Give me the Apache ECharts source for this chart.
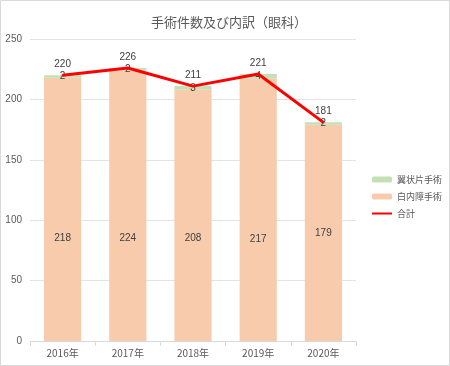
<!DOCTYPE html>
<html><head><meta charset="utf-8">
<script src="https://cdn.jsdelivr.net/npm/echarts@6/dist/echarts.min.js"></script>
<style>html,body{margin:0;padding:0;background:#fff}#c{width:450px;height:366px}</style>
</head><body><div id="c"></div>
<script>
const categories = ['2016年','2017年','2018年','2019年','2020年'];
const pterygium = [2, 2, 3, 4, 2];
const cataract = [218, 224, 208, 217, 179];
const total = [220, 226, 211, 221, 181];
const yTicks = [0, 50, 100, 150, 200, 250];

// label placement within each cataract bar (style only)
const cataractLabelPos = ['61%', '62%', '59%', '61%', '50%'];

const txt = '#595959';
const chart = echarts.init(document.getElementById('c'));
chart.setOption({
  animation: false,
  graphic: [{ type: 'rect', shape: { x: 0.5, y: 0.5, width: 449, height: 365 },
    style: { fill: 'none', stroke: '#d9d9d9', lineWidth: 1 }, silent: true }],
  title: { text: '手術件数及び内訳（眼科）', left: 224, textAlign: 'center', top: 11,
    textStyle: { fontSize: 13, fontWeight: 'normal', color: txt, fontFamily: 'Noto Sans CJK JP' } },
  legend: { orient: 'vertical', left: 366, top: 170, padding: 5, itemWidth: 20, itemHeight: 6, itemGap: 8,
    textStyle: { fontSize: 9, color: txt, fontFamily: 'Noto Sans CJK JP' },
    data: [{name:'翼状片手術'},{name:'白内障手術'},{name:'合計', itemStyle:{opacity:0}}] },
  grid: { left: 30, right: 94, top: 39, bottom: 25 },
  xAxis: { type: 'category', data: categories,
    axisLine: { lineStyle: { color: '#d9d9d9' } },
    axisTick: { show: true, alignWithLabel: false, length: 5, lineStyle: { color: '#d9d9d9' } },
    axisLabel: { fontSize: 10, color: txt, margin: 7, fontFamily: 'Noto Sans CJK JP' } },
  yAxis: { type: 'value', min: yTicks[0], max: yTicks[yTicks.length-1], interval: 50,
    axisLine: { show: false }, axisTick: { show: false },
    splitLine: { lineStyle: { color: '#e3e3e3' } },
    axisLabel: { fontSize: 10, color: txt, margin: 8, fontFamily: 'Liberation Sans' } },
  series: [
    { name: '白内障手術', type: 'bar', stack: 's', barWidth: '57%',
      data: cataract.map((v, i) => ({ value: v, label: { position: ['50%', cataractLabelPos[i]], align: 'center', verticalAlign: 'middle' } })),
      itemStyle: { color: '#F8CBAD' },
      label: { show: true, fontSize: 10, color: '#404040', fontFamily: 'Liberation Sans' } },
    { name: '翼状片手術', type: 'bar', stack: 's', data: pterygium, barWidth: '57%',
      itemStyle: { color: '#C5E0B4' },
      label: { show: true, position: 'inside', fontSize: 10, color: '#404040', fontFamily: 'Liberation Sans' } },
    { name: '合計', type: 'line', data: total, symbol: 'circle', symbolSize: 2, showSymbol: true, z: 3,
      lineStyle: { color: '#FF0000', width: 3 }, itemStyle: { color: '#FF0000' },
      label: { show: true, position: 'top', distance: 5, fontSize: 10, color: '#404040', fontFamily: 'Liberation Sans' } }
  ]
});
</script></body></html>
